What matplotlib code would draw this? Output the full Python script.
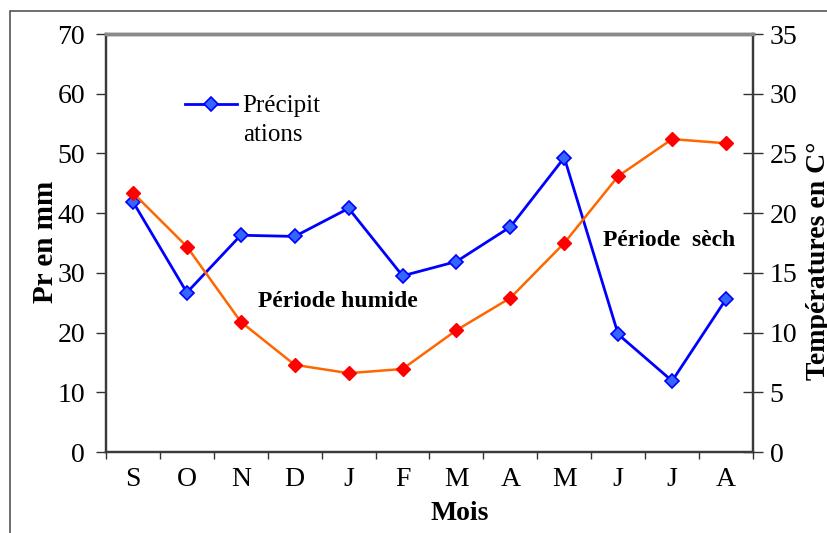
import matplotlib.pyplot as plt
from matplotlib.patches import Rectangle

plt.rcParams['font.family'] = ['Liberation Serif', 'DejaVu Serif']

mois = ['S', 'O', 'N', 'D', 'J', 'F', 'M', 'A', 'M', 'J', 'J', 'A']
precip = [41.9, 26.7, 36.3, 36.1, 40.8, 29.5, 31.9, 37.7, 49.3, 19.7, 11.9, 25.6]
temp = [21.7, 17.2, 10.9, 7.3, 6.6, 6.95, 10.2, 12.9, 17.5, 23.1, 26.2, 25.85]

W, H = 828, 533
fig = plt.figure(figsize=(W / 100, H / 100), dpi=100)
ax = fig.add_axes([106 / W, 1 - 452 / H, (753 - 106) / W, (452 - 34) / H])
ax2 = ax.twinx()

x = list(range(len(mois)))
ax.plot(x, precip, color='#0000FF', lw=2, marker='D', ms=7,
        mfc='#3366FF', mec='#0000FF', mew=1.2, label='Précipit', zorder=3)
ax2.plot(x, temp, color='#FF6600', lw=1.8, marker='D', ms=7.5,
         mfc='#FF0000', mec='#FF0000', zorder=3)

ax.set_xlim(-0.5, 11.5)
ax.set_ylim(0, 70)
ax2.set_ylim(0, 35)
ax.set_yticks(range(0, 71, 10))
ax2.set_yticks(range(0, 36, 5))

# ticks between the months, labels in the middle
ax.set_xticks([i - 0.5 for i in range(13)])
ax.set_xticklabels([])
ax.set_xticks(x, minor=True)
ax.set_xticklabels(mois, minor=True)
ax.tick_params(axis='x', which='major', direction='out', length=5, width=1, color='#333333')
ax.tick_params(axis='x', which='minor', length=0, pad=11, labelsize=20)
ax.tick_params(axis='y', direction='out', length=7, width=1, pad=8, labelsize=20, color='#333333')
ax2.tick_params(axis='y', direction='inout', length=14, width=1, pad=5, labelsize=20, color='#333333')

for a in (ax, ax2):
    for s in ('left', 'right', 'bottom'):
        a.spines[s].set_color('#3a3a3a')
        a.spines[s].set_linewidth(1.6)
    a.spines['top'].set_color('#8a8a8a')
    a.spines['top'].set_linewidth(2.5)

fig.legend(loc='center left', bbox_to_anchor=(185 / W, 1 - 106 / H), frameon=False,
           fontsize=18, handlelength=2.1, handletextpad=0.2, borderpad=0,
           borderaxespad=0)
fig.text(243 / W, 1 - 135 / H, 'ations', fontsize=18, ha='left', va='center')

ax.text(0.359, 0.359, 'Période humide', transform=ax.transAxes, fontsize=17,
        fontweight='bold', ha='center', va='center')
ax.text(0.870, 0.507, 'Période  sèch', transform=ax.transAxes, fontsize=17,
        fontweight='bold', ha='center', va='center')

fig.text(46 / W, 1 - 242 / H, 'Pr en mm', rotation=90, fontsize=21,
         fontweight='bold', ha='center', va='center')
fig.text(806 / W, 1 - 142 / H, 'Températures en C°', rotation=90, fontsize=20,
         fontweight='bold', ha='left', va='top')
fig.text(460 / W, 1 - 514 / H, 'Mois', fontsize=20, fontweight='bold',
         ha='center', va='center')

fig.patches.append(Rectangle((10 / W, -0.2), 1.2, 1.2 - 11 / H,
                             transform=fig.transFigure, fill=False,
                             edgecolor='#555555', lw=1.2))

fig.savefig('out.png', dpi=100)
